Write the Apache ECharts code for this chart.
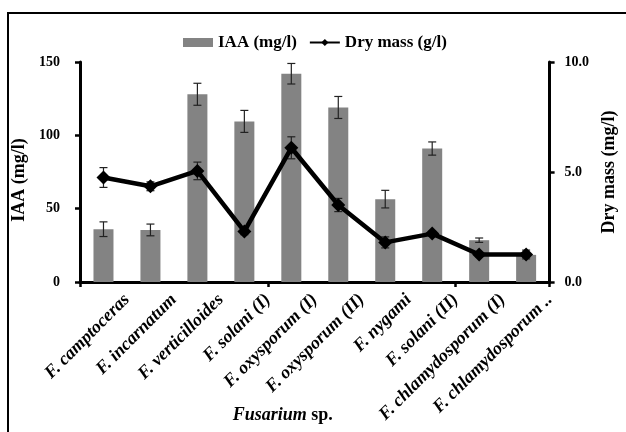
<!DOCTYPE html>
<html><head><meta charset="utf-8">
<script src="https://cdn.jsdelivr.net/npm/echarts@6/dist/echarts.min.js"></script>
<style>html,body{margin:0;padding:0;background:#fff}#c{width:626px;height:432px}</style>
</head><body><div id="c"></div>
<script>
var categories = ['F. camptoceras','F. incarnatum','F. verticilloides','F. solani (I)','F. oxysporum (I)','F. oxysporum (II)','F. nygami','F. solani (II)','F. chlamydosporum (I)','F. chlamydosporum ..'];
var iaaValues = [36, 35.5, 128, 109.5, 142, 119, 56.5, 91, 28.5, 18.5];
var iaaErrors = [5, 4, 7.5, 7.5, 7, 7.5, 6, 4.5, 1.5, 1.5];
var dryMass = [4.75, 4.35, 5.05, 2.3, 6.1, 3.5, 1.8, 2.2, 1.25, 1.25];
var dryMassErrors = [0.45, 0.2, 0.4, 0.15, 0.5, 0.3, 0.25, 0.1, 0.1, 0.2];
var leftTicks = [0, 50, 100, 150];
var rightTicks = [0, 5, 10];

var FONT = 'Liberation Serif';
function errData(vals, errs){ return vals.map(function(v,i){ return [i, v - errs[i], v + errs[i]]; }); }
function errRender(params, api){
  var lo = api.coord([api.value(0), api.value(1)]);
  var hi = api.coord([api.value(0), api.value(2)]);
  var w = 4;
  var st = {stroke:'#222', lineWidth:1.2};
  return {type:'group', children:[
    {type:'line', shape:{x1:lo[0],y1:lo[1],x2:hi[0],y2:hi[1]}, style:st},
    {type:'line', shape:{x1:lo[0]-w,y1:lo[1],x2:lo[0]+w,y2:lo[1]}, style:st},
    {type:'line', shape:{x1:hi[0]-w,y1:hi[1],x2:hi[0]+w,y2:hi[1]}, style:st}
  ]};
}
var chart = echarts.init(document.getElementById('c'));
var axisLineStyle = {color:'#000', width:3};
chart.setOption({
  animation:false,
  textStyle:{fontFamily:FONT},
  graphic:[{type:'rect', shape:{x:8,y:13,width:700,height:600}, style:{fill:'none', stroke:'#000', lineWidth:2}, silent:true}],
  legend:{
    top:29, left:178, itemGap:12, itemWidth:30, itemHeight:9,
    textStyle:{fontFamily:FONT, fontWeight:'bold', fontSize:17, color:'#000'},
    data:[{name:'IAA (mg/l)', icon:'rect'}, {name:'Dry mass (g/l)'}]
  },
  grid:{left:80, right:61, top:62, bottom:150},
  xAxis:[{
    type:'category', data:categories, boundaryGap:true,
    axisLine:{lineStyle:axisLineStyle}, axisTick:{show:true, length:5, lineStyle:{width:2.5,color:'#000'}, alignWithLabel:false},
    axisLabel:{show:false},
    name:'{i|Fusarium}{b| sp.}', nameLocation:'middle', nameGap:124,
    nameTextStyle:{padding:[0,64,0,0], rich:{i:{fontFamily:FONT, fontStyle:'italic', fontWeight:'bold', fontSize:18, color:'#000'}, b:{fontFamily:FONT, fontWeight:'bold', fontSize:18, color:'#000'}}}
  },{
    type:'category', data:[''].concat(categories), boundaryGap:false, position:'bottom',
    axisLine:{show:false}, axisTick:{show:false},
    axisLabel:{interval:0, rotate:45, margin:15, fontFamily:FONT, fontStyle:'italic', fontWeight:'bold', fontSize:18, color:'#000'}
  }],
  yAxis:[{
    type:'value', min:0, max:150, interval:50,
    axisLine:{show:true, lineStyle:axisLineStyle}, axisTick:{show:true, length:5, lineStyle:{width:2.5,color:'#000'}},
    splitLine:{show:false},
    axisLabel:{margin:20, fontFamily:FONT, fontWeight:'bold', fontSize:14, color:'#000'},
    name:'IAA (mg/l)', nameLocation:'middle', nameGap:40, nameRotate:90,
    nameTextStyle:{padding:[0,16,0,0], fontFamily:FONT, fontWeight:'bold', fontSize:18, color:'#000'}
  },{
    type:'value', min:0, max:10, interval:5, position:'right',
    axisLine:{show:true, lineStyle:axisLineStyle}, axisTick:{show:true, length:5, lineStyle:{width:2.5,color:'#000'}},
    splitLine:{show:false},
    axisLabel:{margin:15, fontFamily:FONT, fontWeight:'bold', fontSize:14, color:'#000', formatter:function(v){return v.toFixed(1);}},
    name:'Dry mass (mg/l)', nameLocation:'middle', nameGap:44, nameRotate:90,
    nameTextStyle:{fontFamily:FONT, fontWeight:'bold', fontSize:18, color:'#000'}
  }],
  series:[
    {name:'IAA (mg/l)', type:'bar', data:iaaValues, barWidth:20, itemStyle:{color:'#838383'}, z:2},
    {type:'custom', data:errData(iaaValues, iaaErrors), renderItem:errRender, z:3, silent:true},
    {type:'custom', yAxisIndex:1, data:errData(dryMass, dryMassErrors), renderItem:errRender, z:3, silent:true},
    {name:'Dry mass (g/l)', type:'line', yAxisIndex:1, data:dryMass, symbol:'diamond', symbolSize:14,
      lineStyle:{color:'#000', width:4.5}, itemStyle:{color:'#000'}, z:4}
  ]
});
</script></body></html>
